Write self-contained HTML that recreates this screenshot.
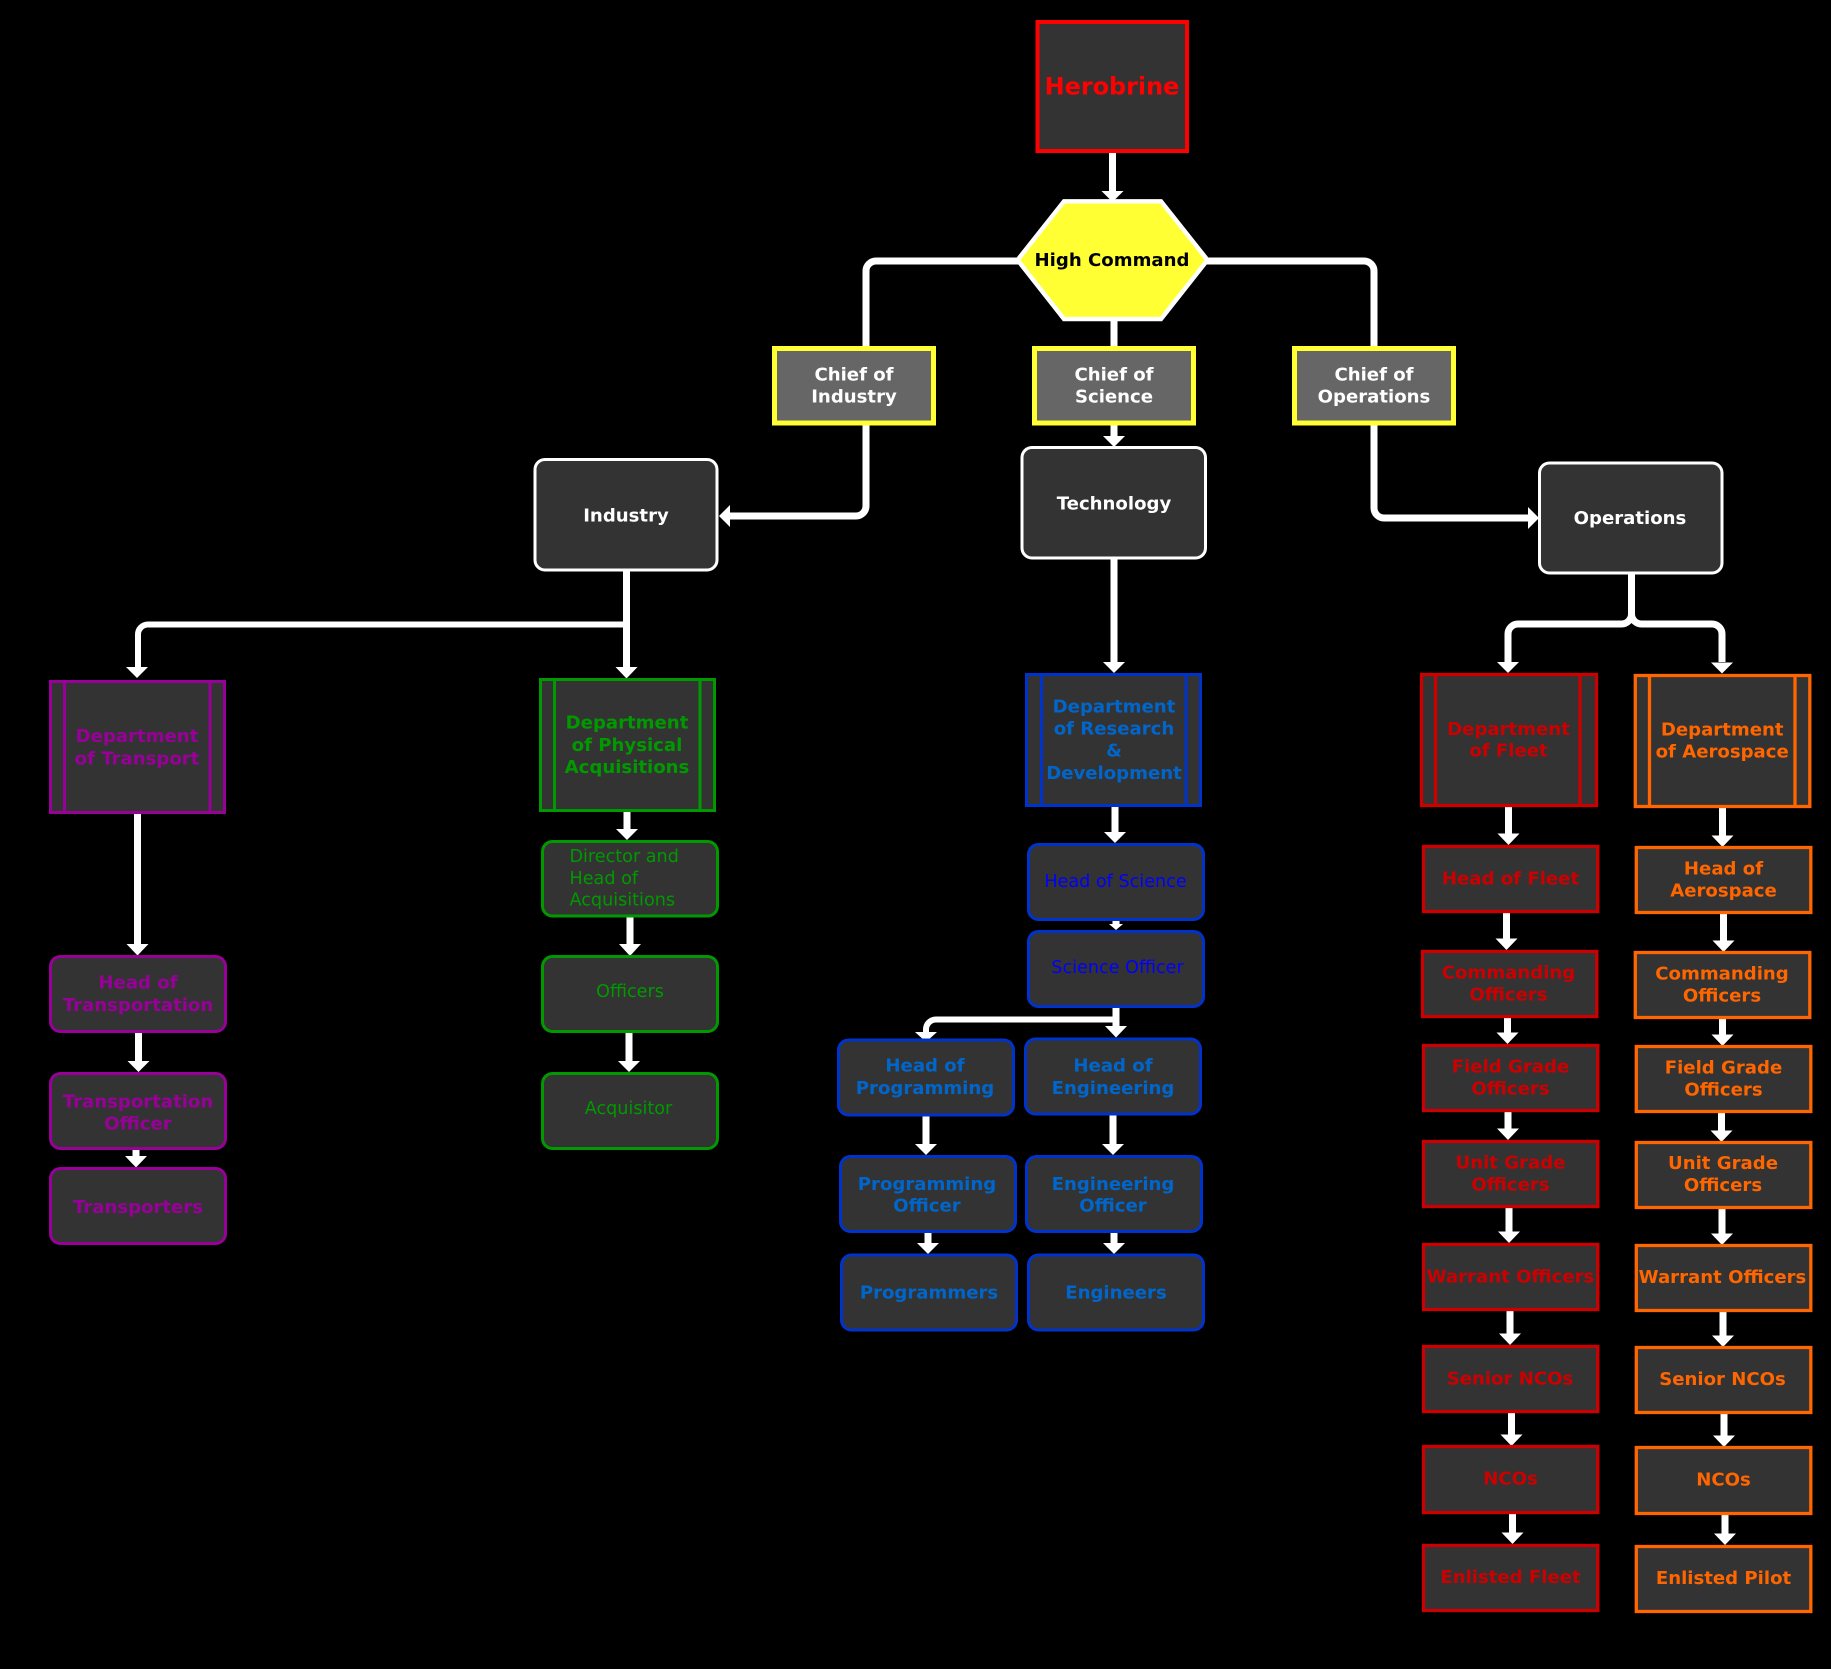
<!DOCTYPE html>
<html><head><meta charset="utf-8"><style>
html,body{margin:0;padding:0;background:#000;width:1831px;height:1669px;overflow:hidden}
svg{display:block}
text{font-family:"DejaVu Sans","Liberation Sans",sans-serif;font-size:18.100px;font-weight:bold;text-anchor:middle;dominant-baseline:central;transform:translateY(1px)}
.l{fill:none;stroke:#fff;stroke-width:7}
.h{fill:#fff}
text.n{font-weight:normal;font-size:17.600px;transform:translateY(0.2px)}
.pu{fill:#333;stroke:#990099;stroke-width:3}.puT{fill:#990099}
.gr{fill:#333;stroke:#009900;stroke-width:3}.grT{fill:#009900}
.bl{fill:#333;stroke:#0033cc;stroke-width:3}.blT{fill:#0066cc}.bbT{fill:#0000ff}
.re{fill:#333;stroke:#cc0000;stroke-width:3.3}.reT{fill:#cc0000}
.or{fill:#333;stroke:#ff6600;stroke-width:3.3}.orT{fill:#ff6600}
.ye{fill:#666;stroke:#ffff33;stroke-width:5}
.wh{fill:#333;stroke:#fff;stroke-width:3}
.wT{fill:#fff}
</style></head><body>
<svg width="1831" height="1669" viewBox="0 0 1831 1669" xmlns="http://www.w3.org/2000/svg">
<rect width="1831" height="1669" fill="#000"/>

<!-- connectors -->
<path class="l" d="M1112.500 153V191"/><polygon class="h" points="1101.500,191 1123.500,191 1112.500,202"/>
<path class="l" d="M1020 261H876a10 10 0 0 0 -10 10V346"/>
<path class="l" d="M1205 261H1364a10 10 0 0 1 10 10V346"/>
<path class="l" d="M1114 320V346"/>
<path class="l" d="M1114 425V436"/><polygon class="h" points="1103,436 1125,436 1114,447"/>
<path class="l" d="M866 425V506a10 10 0 0 1 -10 10H730"/><polygon class="h" points="730,505 730,527 719,516"/>
<path class="l" d="M1374 425V508a10 10 0 0 0 10 10H1528"/><polygon class="h" points="1528,507 1528,529 1539,518"/>
<path class="l" d="M1114 559V662"/><polygon class="h" points="1103,662 1125,662 1114,673"/>

<path class="l" d="M626.500 570V667"/><polygon class="h" points="615.500,667 637.500,667 626.500,678.500"/>
<path class="l" style="stroke-width:6" d="M624 624.500H148a10 10 0 0 0 -10 10V667"/><polygon class="h" points="126,667 148,667 137,678"/>

<path class="l" d="M1631.500 573V614a10 10 0 0 1 -10 10H1518a10 10 0 0 0 -10 10V662"/><polygon class="h" points="1497,662 1519,662 1508,673"/>
<path class="l" d="M1631.500 573V614a10 10 0 0 0 10 10H1712a10 10 0 0 1 10 10V662"/><polygon class="h" points="1711,662.500 1733,662.500 1722,673.500"/>

<!-- purple arrows -->
<path class="l" d="M137.500 814V944"/><polygon class="h" points="126.500,944 148.500,944 137.500,955.500"/>
<path class="l" d="M138.500 1033V1061"/><polygon class="h" points="127.500,1061 149.500,1061 138.500,1072"/>
<path class="l" d="M136 1150V1156"/><polygon class="h" points="125,1156 147,1156 136,1167.500"/>
<!-- green arrows -->
<path class="l" d="M627 812V829"/><polygon class="h" points="616,829 638,829 627,840"/>
<path class="l" d="M630 917V944"/><polygon class="h" points="619,944 641,944 630,956"/>
<path class="l" d="M629 1033V1061"/><polygon class="h" points="618,1061 640,1061 629,1072"/>
<!-- blue arrows -->
<path class="l" d="M1115 807V832"/><polygon class="h" points="1104,832 1126,832 1115,843"/>
<path class="l" d="M1116 920V924"/><polygon class="h" points="1109,924 1123,924 1116,930"/>
<path class="l" d="M1116 1008V1026"/><polygon class="h" points="1105,1026 1127,1026 1116,1037.500"/>
<path class="l" style="stroke-width:6" d="M1113 1019.500H936a10 10 0 0 0 -10 10V1032"/><polygon class="h" points="915,1032 937,1032 926,1042"/>
<path class="l" d="M926 1116V1144"/><polygon class="h" points="915,1144 937,1144 926,1155"/>
<path class="l" d="M1113 1115V1144"/><polygon class="h" points="1102,1144 1124,1144 1113,1155"/>
<path class="l" d="M928 1233V1243"/><polygon class="h" points="917,1243 939,1243 928,1254"/>
<path class="l" d="M1114 1233V1243"/><polygon class="h" points="1103,1243 1125,1243 1114,1254"/>
<!-- red arrows -->
<path class="l" d="M1508.500 807V833.500"/><polygon class="h" points="1497.500,833.500 1519.500,833.500 1508.500,845"/>
<path class="l" d="M1506.500 913V938.500"/><polygon class="h" points="1495.500,938.500 1517.500,938.500 1506.500,950"/>
<path class="l" d="M1507.500 1018V1032.500"/><polygon class="h" points="1496.500,1032.500 1518.500,1032.500 1507.500,1044"/>
<path class="l" d="M1508 1112V1128.500"/><polygon class="h" points="1497,1128.500 1519,1128.500 1508,1140"/>
<path class="l" d="M1509 1208V1231.500"/><polygon class="h" points="1498,1231.500 1520,1231.500 1509,1243"/>
<path class="l" d="M1510 1311V1333.500"/><polygon class="h" points="1499,1333.500 1521,1333.500 1510,1345"/>
<path class="l" d="M1511.500 1413V1434.500"/><polygon class="h" points="1500.500,1434.500 1522.500,1434.500 1511.500,1446"/>
<path class="l" d="M1512.500 1514V1532.500"/><polygon class="h" points="1501.500,1532.500 1523.500,1532.500 1512.500,1544"/>
<!-- orange arrows -->
<path class="l" d="M1722.500 808V835.500"/><polygon class="h" points="1711.500,835.500 1733.500,835.500 1722.500,847"/>
<path class="l" d="M1723.500 914V940.500"/><polygon class="h" points="1712.500,940.500 1734.500,940.500 1723.500,952"/>
<path class="l" d="M1722.500 1019V1034.500"/><polygon class="h" points="1711.500,1034.500 1733.500,1034.500 1722.500,1046"/>
<path class="l" d="M1721.500 1113V1130.500"/><polygon class="h" points="1710.500,1130.500 1732.500,1130.500 1721.500,1142"/>
<path class="l" d="M1722 1209V1233.500"/><polygon class="h" points="1711,1233.500 1733,1233.500 1722,1245"/>
<path class="l" d="M1723 1312V1335.500"/><polygon class="h" points="1712,1335.500 1734,1335.500 1723,1347"/>
<path class="l" d="M1724 1414V1435.500"/><polygon class="h" points="1713,1435.500 1735,1435.500 1724,1447"/>
<path class="l" d="M1725 1515V1533.500"/><polygon class="h" points="1714,1533.500 1736,1533.500 1725,1545"/>

<!-- top -->
<rect x="1037.500" y="22" width="149.500" height="129" fill="#333" stroke="#ff0000" stroke-width="4"/>
<text x="1112" y="85.500" fill="#ff0000" style="font-size:23.900px">Herobrine</text>
<polygon points="1064,201.300 1161,201.300 1207.500,260 1161,319 1064,319 1017.500,260" fill="#ffff33" stroke="#fff" stroke-width="4.400"/>
<text x="1112" y="259.500" fill="#000">High Command</text>

<rect x="774.500" y="348.500" width="159" height="74.500" class="ye"/>
<text x="854" y="374" class="wT">Chief of</text><text x="854" y="396" class="wT">Industry</text>
<rect x="1034.500" y="348.500" width="159" height="74.500" class="ye"/>
<text x="1114" y="374" class="wT">Chief of</text><text x="1114" y="396" class="wT">Science</text>
<rect x="1294.500" y="348.500" width="159" height="74.500" class="ye"/>
<text x="1374" y="374" class="wT">Chief of</text><text x="1374" y="396" class="wT">Operations</text>

<rect x="535" y="459.500" width="182" height="110.500" rx="10" class="wh"/>
<text x="626" y="515" class="wT">Industry</text>
<rect x="1022" y="447.500" width="183.500" height="110.500" rx="10" class="wh"/>
<text x="1114" y="503" class="wT">Technology</text>
<rect x="1539.500" y="463" width="182.500" height="110" rx="10" class="wh"/>
<text x="1630" y="517.500" class="wT">Operations</text>

<!-- purple -->
<rect x="50.500" y="681.500" width="174" height="131" class="pu"/><path class="pu" d="M64.500 681.500V812.500M210 681.500V812.500"/>
<text x="137" y="735.500" class="puT">Department</text><text x="137" y="758" class="puT">of Transport</text>
<rect x="50.500" y="956.500" width="175" height="75" rx="10" class="pu"/>
<text x="138" y="982" class="puT">Head of</text><text x="138" y="1004.500" class="puT">Transportation</text>
<rect x="50.500" y="1073.500" width="175" height="75" rx="10" class="pu"/>
<text x="138" y="1101" class="puT">Transportation</text><text x="138" y="1123" class="puT">Officer</text>
<rect x="50.500" y="1168.500" width="175" height="75" rx="10" class="pu"/>
<text x="138" y="1206.500" class="puT">Transporters</text>

<!-- green -->
<rect x="540.500" y="679.500" width="174" height="131" class="gr"/><path class="gr" d="M554.500 679.500V810.500M700 679.500V810.500"/>
<text x="627" y="722" class="grT">Department</text><text x="627" y="744.500" class="grT">of Physical</text><text x="627" y="766.500" class="grT">Acquisitions</text>
<rect x="542.500" y="841.500" width="175" height="74.500" rx="10" class="gr"/>
<text x="569.500" y="856.700" class="grT n" style="text-anchor:start">Director and</text>
<text x="569.500" y="878.600" class="grT n" style="text-anchor:start">Head of</text>
<text x="569.500" y="900.500" class="grT n" style="text-anchor:start">Acquisitions</text>
<rect x="542.500" y="956.500" width="175" height="75" rx="10" class="gr"/>
<text x="630" y="992" class="grT n">Officers</text>
<rect x="542.500" y="1073.500" width="175" height="75" rx="10" class="gr"/>
<text x="628.500" y="1109" class="grT n">Acquisitor</text>

<!-- blue -->
<rect x="1026.500" y="674.500" width="174" height="131" class="bl"/><path class="bl" d="M1041.500 674.500V805.500M1186 674.500V805.500"/>
<text x="1114" y="706.200" class="blT">Department</text><text x="1114" y="728.100" class="blT">of Research</text><text x="1114" y="749.900" class="blT">&amp;</text><text x="1114" y="772.300" class="blT">Development</text>
<rect x="1028.500" y="844.500" width="175" height="75" rx="10" class="bl"/>
<text x="1115.500" y="881.700" class="bbT n">Head of Science</text>
<rect x="1028.500" y="931.500" width="175" height="75" rx="10" class="bl"/>
<text x="1117.500" y="968" class="bbT n">Science Officer</text>
<rect x="838.500" y="1040" width="175" height="75" rx="10" class="bl"/>
<text x="925" y="1065" class="blT">Head of</text><text x="925" y="1087.500" class="blT">Programming</text>
<rect x="1025.500" y="1039" width="175" height="75" rx="10" class="bl"/>
<text x="1113" y="1065" class="blT">Head of</text><text x="1113" y="1087.500" class="blT">Engineering</text>
<rect x="840.500" y="1156.500" width="175" height="75" rx="10" class="bl"/>
<text x="927" y="1183.500" class="blT">Programming</text><text x="927" y="1205" class="blT">Officer</text>
<rect x="1026.500" y="1156.500" width="175" height="75" rx="10" class="bl"/>
<text x="1113" y="1183.500" class="blT">Engineering</text><text x="1113" y="1205" class="blT">Officer</text>
<rect x="841.500" y="1255" width="175" height="75" rx="10" class="bl"/>
<text x="929" y="1292" class="blT">Programmers</text>
<rect x="1028.500" y="1255" width="175" height="75" rx="10" class="bl"/>
<text x="1116" y="1292" class="blT">Engineers</text>

<!-- red -->
<rect x="1421.500" y="674.500" width="175" height="131" class="re"/><path class="re" d="M1435.500 674.500V805.500M1580 674.500V805.500"/>
<text x="1508.500" y="728.500" class="reT">Department</text><text x="1508.500" y="750.200" class="reT">of Fleet</text>
<rect x="1423.500" y="846.500" width="174.300" height="65" class="re"/>
<text x="1510.500" y="878.200" class="reT">Head of Fleet</text>
<rect x="1422.500" y="951.500" width="174.300" height="65" class="re"/>
<text x="1508.500" y="972.200" class="reT">Commanding</text><text x="1508.500" y="994.200" class="reT">Officers</text>
<rect x="1423.500" y="1045.500" width="174.300" height="65" class="re"/>
<text x="1510.500" y="1066.200" class="reT">Field Grade</text><text x="1510.500" y="1088.200" class="reT">Officers</text>
<rect x="1423.500" y="1141.500" width="174.300" height="65" class="re"/>
<text x="1510.500" y="1162.200" class="reT">Unit Grade</text><text x="1510.500" y="1184.200" class="reT">Officers</text>
<rect x="1423.500" y="1244.500" width="174.300" height="65" class="re"/>
<text x="1510.500" y="1276.200" class="reT">Warrant Officers</text>
<rect x="1423.500" y="1346.500" width="174.300" height="65" class="re"/>
<text x="1510" y="1378.200" class="reT">Senior NCOs</text>
<rect x="1423.500" y="1446.500" width="174.300" height="66" class="re"/>
<text x="1510.500" y="1478.200" class="reT">NCOs</text>
<rect x="1423.500" y="1545.500" width="174.300" height="65" class="re"/>
<text x="1510.500" y="1576.500" class="reT">Enlisted Fleet</text>

<!-- orange -->
<rect x="1635.300" y="675.500" width="174.500" height="131" class="or"/><path class="or" d="M1649.500 675.500V806.500M1795 675.500V806.500"/>
<text x="1722.200" y="729.200" class="orT">Department</text><text x="1722.200" y="751.200" class="orT">of Aerospace</text>
<rect x="1636.300" y="847.500" width="174.500" height="65" class="or"/>
<text x="1723.500" y="868.200" class="orT">Head of</text><text x="1723.500" y="890.200" class="orT">Aerospace</text>
<rect x="1635.300" y="952.500" width="174.500" height="65" class="or"/>
<text x="1722" y="973.200" class="orT">Commanding</text><text x="1722" y="995.200" class="orT">Officers</text>
<rect x="1636.300" y="1046.500" width="174.500" height="65" class="or"/>
<text x="1723.500" y="1066.800" class="orT">Field Grade</text><text x="1723.500" y="1089.200" class="orT">Officers</text>
<rect x="1636.300" y="1142.500" width="174.500" height="65" class="or"/>
<text x="1723" y="1162.500" class="orT">Unit Grade</text><text x="1723" y="1184.500" class="orT">Officers</text>
<rect x="1636.300" y="1245.500" width="174.500" height="65" class="or"/>
<text x="1722.500" y="1276.500" class="orT">Warrant Officers</text>
<rect x="1636.300" y="1347.500" width="174.500" height="65" class="or"/>
<text x="1722.500" y="1378.500" class="orT">Senior NCOs</text>
<rect x="1636.300" y="1447.500" width="174.500" height="66" class="or"/>
<text x="1723.500" y="1479.200" class="orT">NCOs</text>
<rect x="1636.300" y="1546.500" width="174.500" height="65" class="or"/>
<text x="1723.500" y="1577.500" class="orT">Enlisted Pilot</text>
</svg>
</body></html>
